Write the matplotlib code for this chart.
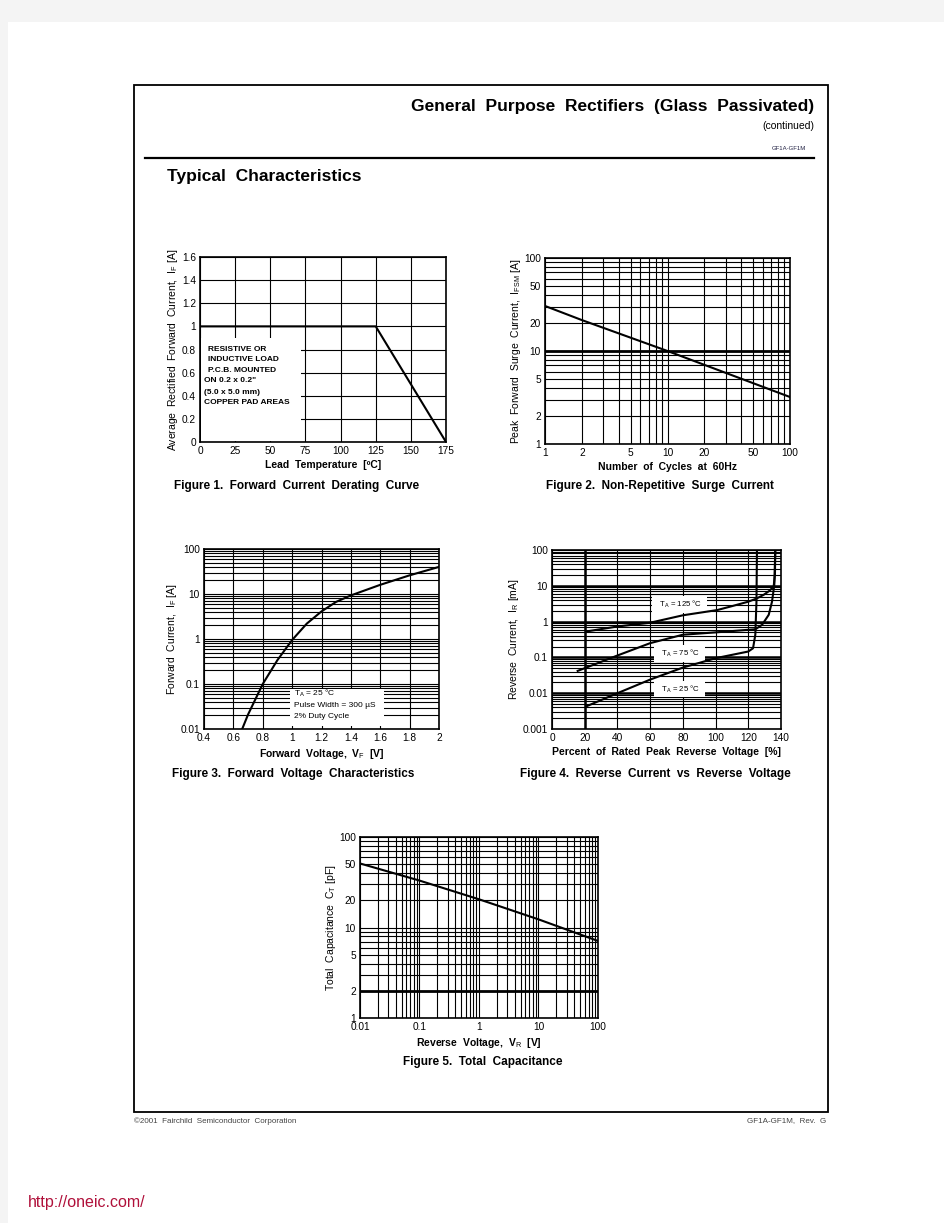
import numpy as np
import matplotlib.pyplot as plt
from matplotlib.patches import Rectangle
from matplotlib.ticker import LogLocator, FuncFormatter, NullFormatter

plt.rcParams['font.family'] = ['Liberation Sans', 'DejaVu Sans']
plt.rcParams['mathtext.fontset'] = 'custom'
plt.rcParams['mathtext.rm'] = 'Liberation Sans'
plt.rcParams['mathtext.it'] = 'Liberation Sans'
plt.rcParams['mathtext.bf'] = 'Liberation Sans:bold'

# Figure 1 - derating curve
lead_temp = [0, 125, 175]
avg_current = [1.0, 1.0, 0.0]

# Figure 2 - surge current
cycles = [1, 2, 10, 100]
surge_current = [30.5, 21.5, 10.0, 3.2]

# Figure 3 - forward voltage
vf = [0.66, 0.7, 0.8, 0.9, 1.0, 1.1, 1.2, 1.3, 1.4, 1.6, 1.8, 2.0]
i_f = [0.01, 0.021, 0.1, 0.34, 0.95, 2.2, 4.1, 6.7, 9.3, 16, 26, 40]

# Figure 4 - reverse current (% of rated voltage, mA)
pct_125 = [21, 40, 60, 80, 101, 110, 120, 125, 129.4, 133, 135.5, 136.3, 136.5]
ir_125 = [0.53, 0.73, 0.93, 1.5, 2.1, 2.7, 3.6, 4.4, 5.6, 7.3, 9.5, 20, 100]
pct_75 = [15.7, 21, 40, 60, 80, 100, 120, 124.3, 128.4, 132.5, 134.5, 135.9, 136.5]
ir_75 = [0.042, 0.052, 0.113, 0.25, 0.43, 0.50, 0.59, 0.61, 0.81, 1.55, 3.6, 10.5, 100]
pct_25 = [21, 40, 60, 80, 100, 120, 122.9, 124.3, 125.0, 125.3]
ir_25 = [0.0043, 0.01, 0.024, 0.052, 0.095, 0.146, 0.18, 0.43, 3.6, 100]

# Figure 5 - total capacitance
vr = [0.01, 0.1, 1, 10, 100]
cap = [51, 33, 20.5, 12.3, 7.1]

W, H = 945, 1223
fig = plt.figure(figsize=(W / 100, H / 100), dpi=100)
fig.patch.set_facecolor('#f4f4f4')


def box(l, t, r, b):
    return [l / W, 1 - b / H, (r - l) / W, (b - t) / H]


def ftext(x, y, s, **kw):
    fig.text(x / W, 1 - y / H, s, **kw)


# page, frame and rule
fig.add_artist(Rectangle((8 / W, 0), 1, 1 - 22 / H, transform=fig.transFigure,
                         facecolor='white', edgecolor='none', zorder=0))
fig.add_artist(Rectangle((134 / W, 1 - 1112 / H), (828 - 134) / W, (1112 - 85) / H,
                         transform=fig.transFigure, facecolor='none',
                         edgecolor='black', lw=1.3))
fig.add_artist(plt.Line2D([145 / W, 814 / W], [1 - 158 / H, 1 - 158 / H],
                          transform=fig.transFigure, color='black', lw=1.6))

ftext(814, 107, 'General  Purpose  Rectifiers  (Glass  Passivated)', ha='right',
      va='center', fontsize=12.5, fontweight='bold')
ftext(814, 126, '(continued)', ha='right', va='center', fontsize=7.5)
ftext(806, 149, 'GF1A-GF1M', ha='right', va='center', fontsize=4.3,
      color='#222244')
ftext(167, 176, 'Typical  Characteristics', ha='left', va='center',
      fontsize=12.5, fontweight='bold')
ftext(134, 1121, '\u00a92001  Fairchild  Semiconductor  Corporation', ha='left',
      va='center', fontsize=5.8, color='#444444')
ftext(826, 1121, 'GF1A-GF1M,  Rev.  G', ha='right', va='center', fontsize=5.8,
      color='#444444')
ftext(28, 1203, 'http://oneic.com/', ha='left', va='center', fontsize=11.5,
      color='#b0103a')

gfmt = FuncFormatter(lambda v, p: f'{v:g}')
TICK = 7.3
LAB = 7.5
CAP = 8.5
NOTE = 6


def style(ax):
    ax.set_axisbelow(True)
    ax.tick_params(which='both', length=0, labelsize=TICK, pad=3)
    for s in ax.spines.values():
        s.set_linewidth(1.2)
    ax.grid(which='both', color='black', lw=0.8)


def logminor(axis):
    axis.set_minor_locator(LogLocator(base=10, subs=np.arange(2, 10)))
    axis.set_minor_formatter(NullFormatter())


# ---- Figure 1
ax1 = fig.add_axes(box(200, 257, 446, 442))
style(ax1)
ax1.set_xlim(0, 175)
ax1.set_ylim(0, 1.6)
ax1.set_xticks(np.arange(0, 176, 25))
ax1.set_yticks(np.arange(0, 1.61, 0.2))
ax1.yaxis.set_major_formatter(gfmt)
ax1.plot(lead_temp, avg_current, color='black', lw=1.5, zorder=3)
ax1.add_patch(Rectangle((0.5, 0.005), 71, 0.895, facecolor='white',
                        edgecolor='none', zorder=1))
notes = [(6, 0.8, 'RESISTIVE OR'), (6, 0.71, 'INDUCTIVE LOAD'),
         (6, 0.62, 'P.C.B. MOUNTED'), (3, 0.53, 'ON 0.2 x 0.2"'),
         (3, 0.43, '(5.0 x 5.0 mm)'), (3, 0.34, 'COPPER PAD AREAS')]
for x, y, s in notes:
    ax1.text(x, y, s, fontsize=NOTE, fontweight='bold', va='center', zorder=2)
ax1.set_xlabel('Lead  Temperature  [\u00baC]', fontsize=LAB, fontweight='bold',
               labelpad=3)
ax1.set_ylabel('Average  Rectified  Forward  Current,  I$_F$ [A]', fontsize=LAB,
               labelpad=1)
ftext(297, 486, 'Figure 1.  Forward  Current  Derating  Curve', ha='center',
      va='center', fontsize=CAP, fontweight='bold')

# ---- Figure 2
ax2 = fig.add_axes(box(545, 258, 790, 444))
ax2.set_xscale('log')
ax2.set_yscale('log')
style(ax2)
ax2.set_xlim(1, 100)
ax2.set_ylim(1, 100)
logminor(ax2.xaxis)
logminor(ax2.yaxis)
ax2.set_xticks([1, 2, 5, 10, 20, 50, 100])
ax2.set_yticks([1, 2, 5, 10, 20, 50, 100])
ax2.xaxis.set_major_formatter(gfmt)
ax2.yaxis.set_major_formatter(gfmt)
ax2.axhline(10, color='black', lw=2, zorder=1)
ax2.plot(cycles, surge_current, color='black', lw=1.5, zorder=3)
ax2.set_xlabel('Number  of  Cycles  at  60Hz', fontsize=LAB, fontweight='bold',
               labelpad=3)
ax2.set_ylabel('Peak  Forward  Surge  Current,  I$_{FSM}$ [A]', fontsize=LAB,
               labelpad=1)
ftext(660, 486, 'Figure 2.  Non-Repetitive  Surge  Current', ha='center',
      va='center', fontsize=CAP, fontweight='bold')

# ---- Figure 3
ax3 = fig.add_axes(box(204, 549, 439, 729))
ax3.set_yscale('log')
style(ax3)
ax3.set_xlim(0.4, 2)
ax3.set_ylim(0.01, 100)
logminor(ax3.yaxis)
ax3.set_xticks(np.arange(0.4, 2.01, 0.2))
ax3.set_yticks([0.01, 0.1, 1, 10, 100])
ax3.xaxis.set_major_formatter(gfmt)
ax3.yaxis.set_major_formatter(gfmt)
ax3.plot(vf, i_f, color='black', lw=1.5, zorder=3)
ax3.add_patch(Rectangle((0.985, 0.0118), 0.64, 0.066, facecolor='white',
                        edgecolor='none', zorder=1))
ax3.text(1.01, 0.063, 'T$_A$ = 25 \u00b0C', fontsize=NOTE, va='center', zorder=2)
ax3.text(1.01, 0.034, 'Pulse Width = 300 \u00b5S', fontsize=NOTE, va='center',
         zorder=2)
ax3.text(1.01, 0.0186, '2% Duty Cycle', fontsize=NOTE, va='center', zorder=2)
ax3.set_xlabel('Forward  Voltage,  V$_F$  [V]', fontsize=LAB, fontweight='bold',
               labelpad=3)
ax3.set_ylabel('Forward  Current,  I$_F$ [A]', fontsize=LAB, labelpad=1)
ftext(293, 774, 'Figure 3.  Forward  Voltage  Characteristics', ha='center',
      va='center', fontsize=CAP, fontweight='bold')

# ---- Figure 4
ax4 = fig.add_axes(box(552, 550, 781, 729))
ax4.set_yscale('log')
style(ax4)
ax4.set_xlim(0, 140)
ax4.set_ylim(0.001, 100)
logminor(ax4.yaxis)
ax4.set_xticks(np.arange(0, 141, 20))
ax4.set_yticks([0.001, 0.01, 0.1, 1, 10, 100])
ax4.yaxis.set_major_formatter(gfmt)
for yv in [0.01, 0.1, 1, 10]:
    ax4.axhline(yv, color='black', lw=1.8, zorder=1)
ax4.axvline(20, color='black', lw=1.8, zorder=1)
ax4.plot(pct_125, ir_125, color='black', lw=1.5, zorder=3)
ax4.plot(pct_75, ir_75, color='black', lw=1.5, zorder=3)
ax4.plot(pct_25, ir_25, color='black', lw=1.5, zorder=3)
bb = dict(facecolor='white', edgecolor='none', boxstyle='square,pad=0.35')
ax4.text(78, 3.0, '  T$_A$ = 125 \u00b0C  ', fontsize=5.6, ha='center',
         va='center', bbox=bb, zorder=2)
ax4.text(78, 0.13, '  T$_A$ = 75 \u00b0C  ', fontsize=5.6, ha='center',
         va='center', bbox=bb, zorder=2)
ax4.text(78, 0.013, '  T$_A$ = 25 \u00b0C  ', fontsize=5.6, ha='center',
         va='center', bbox=bb, zorder=2)
ax4.set_xlabel('Percent  of  Rated  Peak  Reverse  Voltage  [%]', fontsize=LAB,
               fontweight='bold', labelpad=3)
ax4.set_ylabel('Reverse  Current,  I$_R$ [mA]', fontsize=LAB, labelpad=1)
ftext(655, 774, 'Figure 4.  Reverse  Current  vs  Reverse  Voltage', ha='center',
      va='center', fontsize=CAP, fontweight='bold')

# ---- Figure 5
ax5 = fig.add_axes(box(360, 837, 598, 1018))
ax5.set_xscale('log')
ax5.set_yscale('log')
style(ax5)
ax5.set_xlim(0.01, 100)
ax5.set_ylim(1, 100)
logminor(ax5.xaxis)
logminor(ax5.yaxis)
ax5.set_xticks([0.01, 0.1, 1, 10, 100])
ax5.set_yticks([1, 2, 5, 10, 20, 50, 100])
ax5.xaxis.set_major_formatter(gfmt)
ax5.yaxis.set_major_formatter(gfmt)
ax5.axhline(2, color='black', lw=2, zorder=1)
ax5.plot(vr, cap, color='black', lw=1.5, zorder=3)
ax5.set_xlabel('Reverse  Voltage,  V$_R$  [V]', fontsize=LAB, fontweight='bold',
               labelpad=3)
ax5.set_ylabel('Total  Capacitance  C$_T$ [pF]', fontsize=LAB, labelpad=1)
ftext(483, 1062, 'Figure 5.  Total  Capacitance', ha='center', va='center',
      fontsize=CAP, fontweight='bold')

fig.savefig('out.png', dpi=100, facecolor=fig.get_facecolor())
